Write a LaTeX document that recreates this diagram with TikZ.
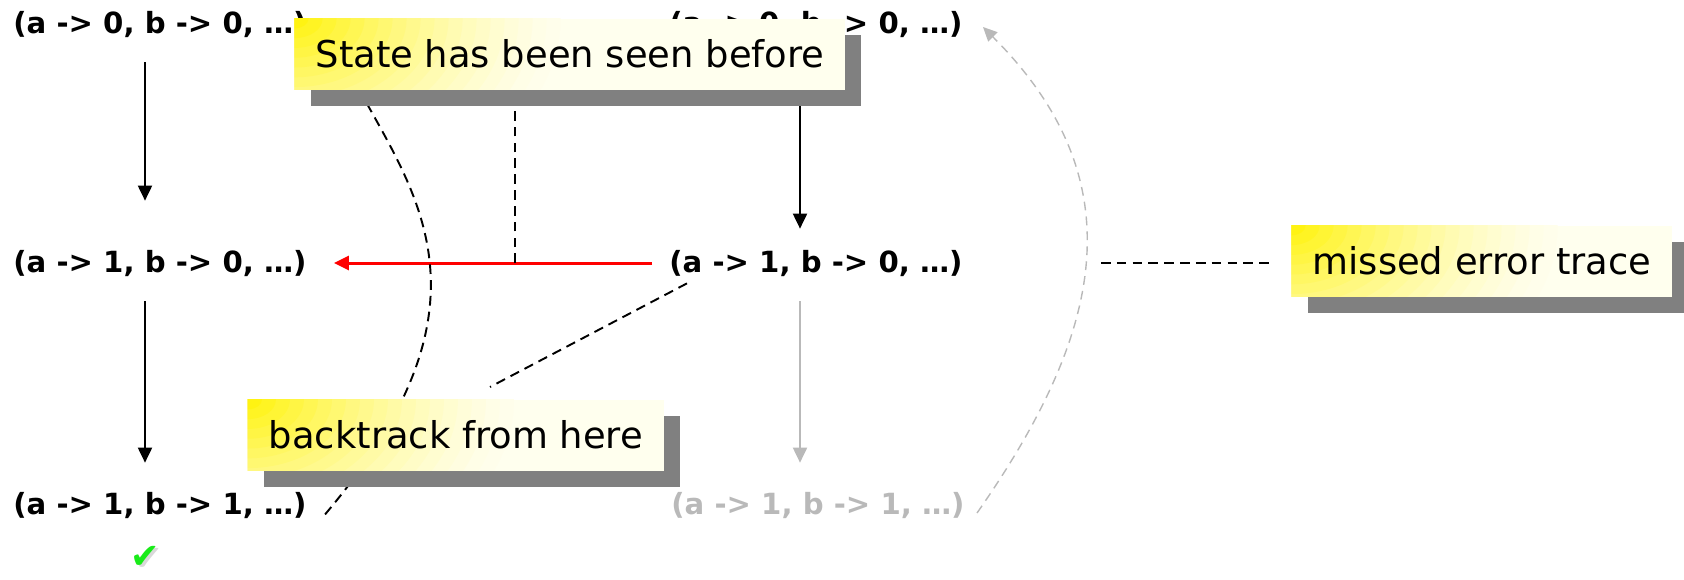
\documentclass[tikz,border=0pt]{standalone}
\usepackage{fontspec}
\setmainfont{DejaVu Sans}
\usetikzlibrary{arrows.meta,shadows,backgrounds}

\definecolor{ghostgray}{RGB}{185,185,185}
\definecolor{tickgreen}{RGB}{25,235,25}
\definecolor{paleyellow}{RGB}{255,255,238}

\tikzset{
  statelbl/.style={inner sep=0pt, minimum height=0.8cm, anchor=west,
    font=\fontsize{16.6}{20}\selectfont\bfseries},
  trans/.style={-{Triangle[length=0.3cm,width=0.28cm]}, line width=1.1pt},
  annot/.style={dash pattern=on 5.5pt off 3.5pt, line width=1.1pt},
  ghostdash/.style={dash pattern=on 5pt off 3.5pt, line width=0.8pt, ghostgray,
    -{Triangle[length=0.28cm,width=0.26cm]}},
  callout/.style={fill=paleyellow, inner xsep=0.42cm, minimum height=1.42cm,
    font=\fontsize{21}{25}\selectfont,
    path picture={
      \foreach \k in {19,18,...,1}{
        \pgfmathsetmacro\glow{100*(1-\k/20)^1.5}
        \pgfmathsetmacro\rx{0.28*\k}
        \pgfmathsetmacro\ry{0.196*\k}
        \fill[yellow!\glow!paleyellow] (path picture bounding box.north west)
          ellipse (\rx cm and \ry cm);
      }},
    drop shadow={shadow xshift=0.32cm, shadow yshift=-0.33cm, fill=black!50,
      opacity=1, path picture={}}}
}

\begin{document}
\begin{tikzpicture}[x=0.2mm, y=-0.2mm]
    \useasboundingbox (0,0) rectangle (1684,579);

    % States of the first run
    \node[statelbl] (l0) at (13,24) {(a -> 0, b -> 0, …)};
    \node[statelbl] (l1) at (13,263) {(a -> 1, b -> 0, …)};
    \node[statelbl] (l2) at (13,505) {(a -> 1, b -> 1, …)};

    % States of the second run
    \node[statelbl] (r0) at (669,24) {(a -> 0, b -> 0, …)};
    \node[statelbl] (r1) at (669,263) {(a -> 1, b -> 0, …)};
    \node[statelbl, text=ghostgray] (r2) at (671,505) {(a -> 1, b -> 1, …)};

    % Success mark
    \node[inner sep=0pt, text=gray!30, font=\fontsize{20}{22}\selectfont] (okshade) at (148,559) {✔};
    \node[inner sep=0pt, text=tickgreen, font=\fontsize{20}{22}\selectfont] (ok) at (145,557) {✔};

    % Callouts
    \node[callout] (seen) at (570,54) {State has been seen before};
    \node[callout] (back) at (456,435) {backtrack from here};
    \node[callout] (missed) at (1482,261) {missed error trace};

    % Free ends
    \coordinate (colL) at (145,0);
    \coordinate (colR) at (800,0);
    \coordinate (hit) at (515,263);
    \coordinate (curvefoot) at (322,518);
    \coordinate (backtip) at (490,387);
    \coordinate (ghoststart) at (977,513);
    \coordinate (ghosttip) at (983,27);
    \coordinate (missfoot) at (1101,263);

    \begin{scope}[on background layer]
        % Transitions
        \draw[trans, shorten <=0.36cm, shorten >=0.84cm] (colL |- l0.south) -- (colL |- l1.north);
        \draw[trans, shorten <=0.36cm, shorten >=0.44cm] (colL |- l1.south) -- (colL |- l2.north);
        \draw[trans, shorten >=0.28cm] (colR |- r0.south) -- (colR |- r1.north);
        \draw[trans, ghostgray, shorten <=0.36cm, shorten >=0.44cm] (colR |- r1.south) -- (colR |- r2.north);

        % Backtrack
        \draw[trans, red, line width=1.7pt, shorten <=0.34cm, shorten >=0.54cm] (r1.west) -- (l1.east);

        % Callout leaders
        \draw[annot] (hit) -- (hit |- seen.south);
        \draw[annot] ([xshift=1.3cm]seen.south west) .. controls (420,200) and (500,310) .. (curvefoot);
        \draw[annot] ([xshift=0.36cm]r1.south west) -- (backtip);
        \draw[annot, shorten >=0.4cm] (missfoot) -- (missfoot -| missed.west);

        % Missed trace
        \draw[ghostdash] (ghoststart) .. controls (1100,337) and (1140,184) .. (ghosttip);
    \end{scope}
\end{tikzpicture}
\end{document}
